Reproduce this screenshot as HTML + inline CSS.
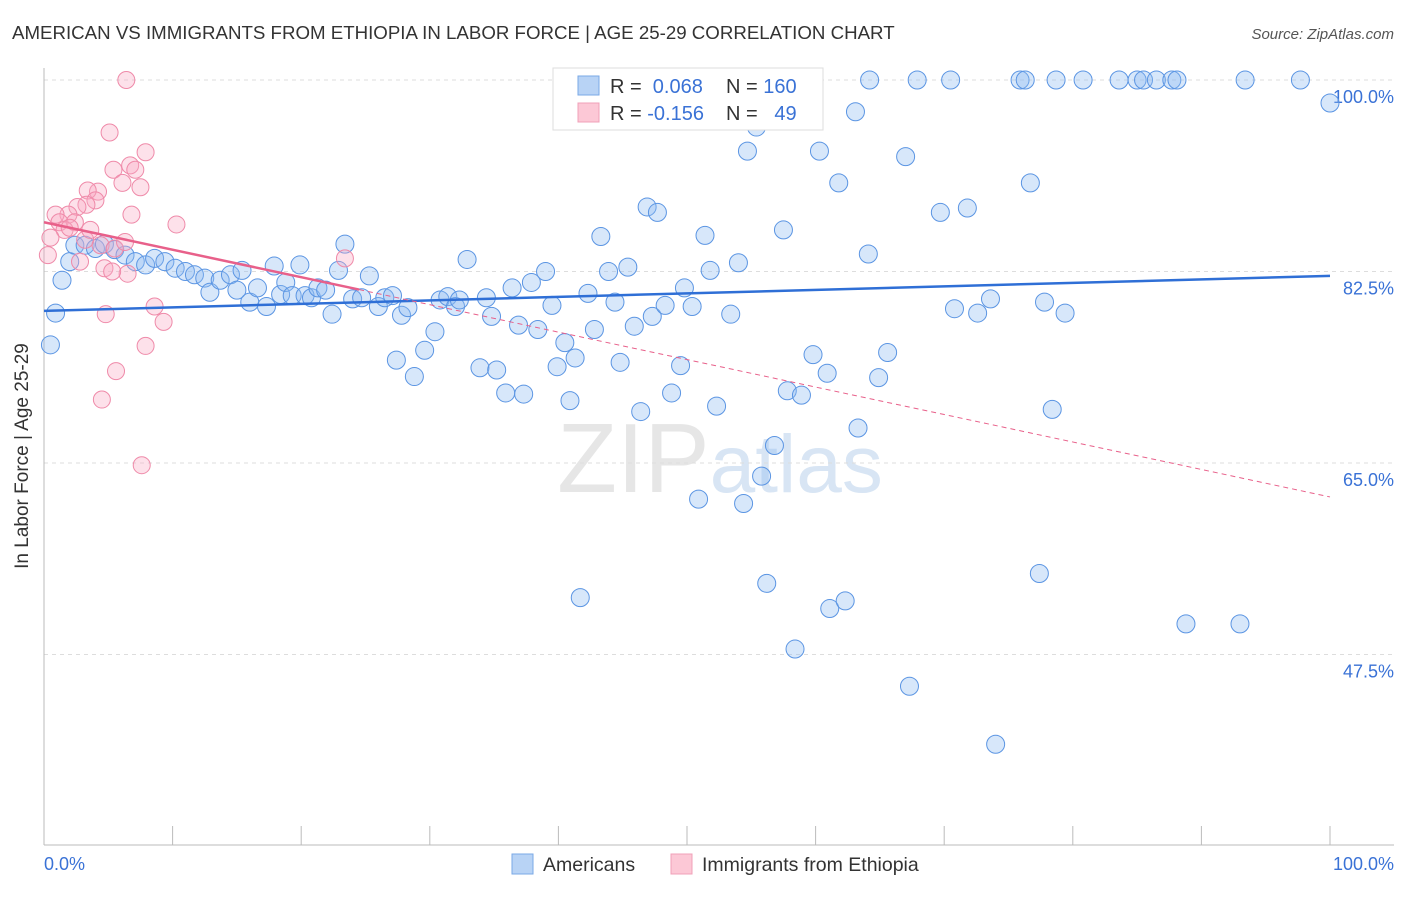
<!DOCTYPE html>
<html><head><meta charset="utf-8"><style>
body{margin:0;background:#fff;font-family:"Liberation Sans",sans-serif;}
svg text{font-family:"Liberation Sans",sans-serif;}
</style></head><body>
<svg id="chart" width="1406" height="892">
<text x="12" y="39" font-size="18.7" fill="#333">AMERICAN VS IMMIGRANTS FROM ETHIOPIA IN LABOR FORCE | AGE 25-29 CORRELATION CHART</text>
<text x="1394" y="39" font-size="15" fill="#555" font-style="italic" text-anchor="end">Source: ZipAtlas.com</text>
<text x="720" y="492" font-size="98" fill="#e6e6e6" text-anchor="middle" font-family="Liberation Serif">ZIP<tspan fill="#d8e5f4" font-family="Liberation Sans" font-size="82">atlas</tspan></text>
<g id="grid"></g>
<g id="axes"></g>
<g id="pts"></g>
<g id="trend"></g>
<text x="28" y="456" font-size="19" fill="#333" text-anchor="middle" transform="rotate(-90 28 456)">In Labor Force | Age 25-29</text>
<g>
<rect x="553" y="68" width="270" height="62" fill="#fff" stroke="#ddd"/>
<rect x="578" y="76" width="21" height="19" fill="#b8d3f5" stroke="#7aa8e6"/>
<rect x="578" y="103" width="21" height="19" fill="#fcc8d6" stroke="#f0a0b8"/>
<text x="610" y="93" font-size="20" fill="#333">R = <tspan fill="#3a72d6">&#160;0.068</tspan><tspan x="726">N = </tspan><tspan fill="#3a72d6">160</tspan></text>
<text x="610" y="120" font-size="20" fill="#333">R = <tspan fill="#3a72d6">-0.156</tspan><tspan x="726">N = </tspan><tspan fill="#3a72d6">&#160;&#160;49</tspan></text>
</g>
<g>
<rect x="512" y="854" width="21" height="20" fill="#b8d3f5" stroke="#7aa8e6"/>
<text x="543" y="871" font-size="19.5" fill="#333">Americans</text>
<rect x="671" y="854" width="21" height="20" fill="#fcc8d6" stroke="#f0a0b8"/>
<text x="702" y="871" font-size="19.5" fill="#333">Immigrants from Ethiopia</text>
</g>
</svg>
<script>
const blueX=[0.9,0.5,1.4,2.0,2.4,3.2,4.0,4.7,5.5,6.3,7.1,7.9,8.6,9.4,10.2,11.0,11.7,12.5,12.9,13.7,14.5,15.0,15.4,16.0,16.6,17.3,17.9,18.4,18.8,19.3,19.9,20.3,20.8,21.3,21.9,22.4,22.9,23.4,24.0,24.7,25.3,26.0,26.5,27.1,27.4,27.8,28.3,28.8,29.6,30.4,30.8,31.4,32.0,32.3,32.9,33.9,34.4,34.8,35.2,35.9,36.4,36.9,37.3,37.9,38.4,39.0,39.5,39.9,40.5,40.9,41.3,41.7,42.3,42.8,43.3,43.9,44.4,44.8,45.4,45.9,46.4,46.9,47.3,47.7,48.3,48.8,49.5,49.8,50.4,50.9,51.4,51.8,52.3,53.4,54.0,54.4,54.7,55.4,55.8,56.2,56.8,57.5,57.8,58.4,58.9,59.8,60.3,60.9,61.1,61.8,62.3,63.1,63.3,64.1,64.2,64.9,65.6,67.0,67.3,67.9,69.7,70.5,70.8,71.8,72.6,73.6,74.0,75.9,76.3,76.7,77.4,77.8,78.4,78.7,79.4,80.8,83.6,85.0,85.5,86.5,87.7,88.1,88.8,93.0,93.4,97.7,100];
const blueY=[78.7,75.8,81.7,83.4,84.9,84.9,84.6,85.0,84.5,84.0,83.4,83.1,83.7,83.4,82.8,82.5,82.2,81.9,80.6,81.7,82.2,80.8,82.6,79.7,81.0,79.3,83.0,80.4,81.5,80.3,83.1,80.3,80.1,81.0,80.8,78.6,82.6,85.0,80.0,80.1,82.1,79.3,80.1,80.3,74.4,78.5,79.2,72.9,75.3,77.0,79.9,80.2,79.3,79.9,83.6,73.7,80.1,78.4,73.5,71.4,81.0,77.6,71.3,81.5,77.2,82.5,79.4,73.8,76.0,70.7,74.6,52.7,80.5,77.2,85.7,82.5,79.7,74.2,82.9,77.5,69.7,88.4,78.4,87.9,79.4,71.4,73.9,81.0,79.3,61.7,85.8,82.6,70.2,78.6,83.3,61.3,93.5,95.7,63.8,54.0,66.6,86.3,71.6,48.0,71.2,74.9,93.5,73.2,51.7,90.6,52.4,97.1,68.2,84.1,100,72.8,75.1,93.0,44.6,100,87.9,100,79.1,88.3,78.7,80.0,39.3,100,100,90.6,54.9,79.7,69.9,100,78.7,100,100,100,100,100,100,100,50.3,50.3,100,100,97.9];
const pinkX=[6.4,5.1,7.9,6.7,5.4,7.1,6.1,7.5,4.2,3.4,4.0,3.3,2.6,1.9,0.9,1.2,2.4,1.6,0.5,0.3,6.8,10.3,3.2,4.4,5.5,6.3,2.8,4.7,6.5,5.3,23.4,8.6,9.3,4.8,7.9,5.6,4.5,7.6,2.0,3.6];
const pinkY=[100,95.2,93.4,92.2,91.8,91.8,90.6,90.2,89.8,89.9,89.0,88.6,88.4,87.7,87.7,87.0,87.0,86.3,85.6,84.0,87.7,86.8,85.4,84.9,84.6,85.2,83.4,82.8,82.3,82.5,83.7,79.3,77.9,78.6,75.7,73.4,70.8,64.8,86.5,86.3];
const yTicks=[100,82.5,65,47.5];
const yTickLabels=["100.0%","82.5%","65.0%","47.5%"];
const blueTrend=[78.9,82.1];
const pinkTrend=[87.0,61.9];
const pinkSolidEnd=24.5;

const NS="http://www.w3.org/2000/svg";
const X=v=>44+v*12.86;
const Y=v=>80+(100-v)*10.943;
function mk(tag,attrs,parent){const e=document.createElementNS(NS,tag);for(const k in attrs)e.setAttribute(k,attrs[k]);parent.appendChild(e);return e;}
const grid=document.getElementById('grid'),axes=document.getElementById('axes'),pts=document.getElementById('pts'),trend=document.getElementById('trend');
yTicks.forEach((t,i)=>{
  const l=mk('line',{x1:44,x2:1394,y1:Y(t),y2:Y(t),stroke:'#ddd','stroke-dasharray':'4,4'},grid);
  
  
  const tx=mk('text',{x:1394,y:Y(t)+23,'font-size':18,fill:'#3a72d6','text-anchor':'end'},axes);
  tx.textContent=yTickLabels[i];
  
  
});
const ax=mk('line',{x1:44,x2:44,y1:68,y2:845,stroke:'#bbb'},axes);


const bx=mk('line',{x1:44,x2:1394,y1:845,y2:845,stroke:'#bbb'},axes);


for(let i=0;i<=10;i++){
  const t=mk('line',{x1:X(i*10),x2:X(i*10),y1:826,y2:845,stroke:'#bbb'},axes);
  
  
}
const xl=mk('text',{x:44,y:870,'font-size':18,fill:'#3a72d6'},axes);xl.textContent='0.0%';


const xr=mk('text',{x:1394,y:870,'font-size':18,fill:'#3a72d6','text-anchor':'end'},axes);xr.textContent='100.0%';


blueX.forEach((v,i)=>{
  const c=mk('circle',{cx:X(v),cy:Y(blueY[i]),r:9,fill:'rgba(140,185,240,0.35)',stroke:'#5b95e3','stroke-width':1},pts);
  
  
});
pinkX.forEach((v,i)=>{
  const c=mk('circle',{cx:X(v),cy:Y(pinkY[i]),r:8.5,fill:'rgba(248,170,195,0.35)',stroke:'#ef8aa9','stroke-width':1},pts);
  
  
});
const pAt=x=>pinkTrend[0]+(pinkTrend[1]-pinkTrend[0])*x/100;
const bl=mk('line',{x1:X(0),y1:Y(blueTrend[0]),x2:X(100),y2:Y(blueTrend[1]),stroke:'#2f6fd6','stroke-width':2.5},trend);


const ps=mk('line',{x1:X(0),y1:Y(pAt(0)),x2:X(pinkSolidEnd),y2:Y(pAt(pinkSolidEnd)),stroke:'#e8608a','stroke-width':2.5},trend);


const pd=mk('line',{x1:X(pinkSolidEnd),y1:Y(pAt(pinkSolidEnd)),x2:X(100),y2:Y(pAt(100)),stroke:'#e8608a','stroke-width':1,'stroke-dasharray':'5,4'},trend);


</script>
</body></html>
